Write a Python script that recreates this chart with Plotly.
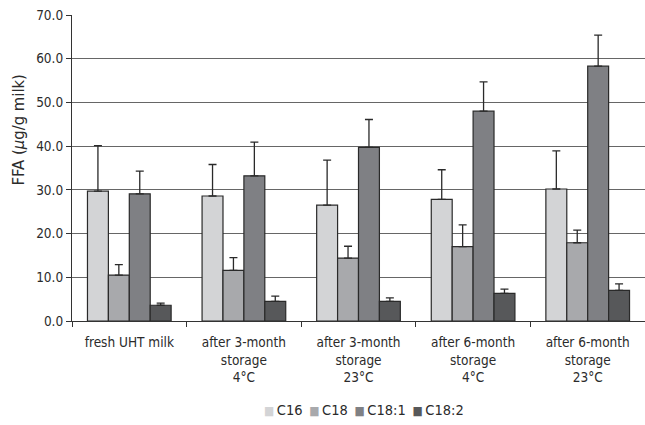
import plotly.graph_objects as go

categories = ["fresh UHT milk", "after 3-month<br>storage<br>4°C", "after 3-month<br>storage<br>23°C",
              "after 6-month<br>storage<br>4°C", "after 6-month<br>storage<br>23°C"]
series_names = ["C16", "C18", "C18:1", "C18:2"]
c16 = [29.7, 28.6, 26.5, 27.8, 30.2]
c16_err = [10.4, 7.2, 10.3, 6.8, 8.7]
c18 = [10.5, 11.6, 14.4, 17.0, 17.9]
c18_err = [2.4, 2.9, 2.7, 5.0, 2.9]
c181 = [29.1, 33.2, 39.7, 48.0, 58.3]
c181_err = [5.2, 7.7, 6.4, 6.7, 7.1]
c182 = [3.6, 4.5, 4.5, 6.3, 7.0]
c182_err = [0.5, 1.2, 0.8, 1.0, 1.5]
colors = ["#d3d4d6", "#a8a9ac", "#7f8084", "#57585a"]

FONT = "DejaVu Sans Condensed, Liberation Sans, sans-serif"

fig = go.Figure()
for name, vals, errs, col in zip(series_names, [c16, c18, c181, c182],
                                 [c16_err, c18_err, c181_err, c182_err], colors):
    fig.add_trace(go.Bar(
        name=name, x=categories, y=vals,
        marker=dict(color=col, line=dict(color="#2a2a2a", width=1.2)),
        error_y=dict(type="data", array=errs, arrayminus=[0]*len(errs), symmetric=False,
                     color="#2a2a2a", thickness=1.3, width=4),
        showlegend=False,
    ))

# compact legend drawn as text (square swatch directly followed by the label)
legend_text = "\u00a0\u2009".join(
    f'<span style="color:{c};font-size:12px">■</span>\u2009{n}' for n, c in zip(series_names, colors)
)
fig.add_annotation(text=legend_text, xref="paper", yref="paper", x=0.51, y=-0.29,
                   xanchor="center", yanchor="middle", showarrow=False,
                   font=dict(size=14.5, color="#2b2b2b"))
fig.add_annotation(text="FFA (<i>μ</i>g/g milk)", xref="paper", yref="paper",
                   x=-0.093, y=0.625, xanchor="center", yanchor="middle", textangle=-90,
                   showarrow=False, font=dict(size=16.5, color="#2b2b2b"))

fig.update_layout(
    width=645, height=425,
    margin=dict(l=72, r=0, t=15, b=104),
    paper_bgcolor="white", plot_bgcolor="white",
    barmode="group", bargap=0.27, bargroupgap=0,
    font=dict(family=FONT, size=13, color="#2b2b2b"),
    xaxis=dict(showline=True, linecolor="#333", linewidth=1.2, ticks="outside",
               tickson="boundaries", ticklen=5, tickcolor="#333", tickfont=dict(size=13.5),
               ticklabelstandoff=9,
               showgrid=False, automargin=False),
    yaxis=dict(range=[0, 70], dtick=10, tickformat=".1f", showline=True, linecolor="#333",
               linewidth=1.2, ticks="outside", ticklen=5, tickcolor="#333",
               gridcolor="#666666", gridwidth=1.1, tickfont=dict(size=13.5),
               zeroline=False, automargin=False),
)
fig.write_html("out.html", config={"displayModeBar": False},
               post_script="document.body.style.margin='0px';")
